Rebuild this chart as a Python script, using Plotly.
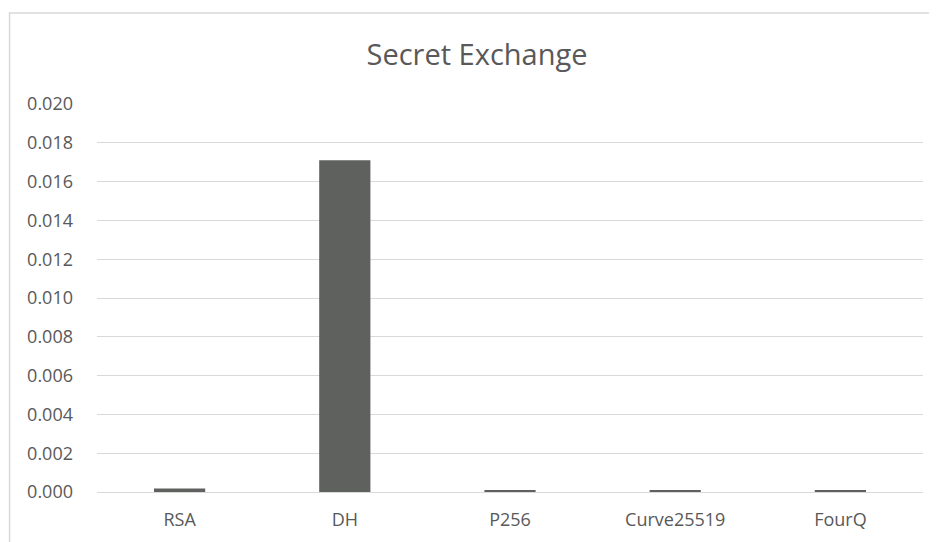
import plotly.graph_objects as go

categories = ["RSA", "DH", "P256", "Curve25519", "FourQ"]
values = [0.00018, 0.01710, 0.00010, 0.00010, 0.00010]
y_ticks = [0.000, 0.002, 0.004, 0.006, 0.008, 0.010, 0.012, 0.014, 0.016, 0.018, 0.020]

W, H = 937, 542
OFF = 8  # page body margin offset
L, R, T, B = 96.5 - OFF, 14.2 + OFF, 104 - OFF, 50 + OFF

fig = go.Figure(go.Bar(
    x=categories, y=values,
    marker=dict(color="#5f615f", line=dict(width=0)),
    width=0.31,
))

text_color = "#595959"
font = "Open Sans"

fig.update_layout(
    width=W, height=H,
    margin=dict(l=L, r=R, t=T, b=B, pad=0),
    paper_bgcolor="white", plot_bgcolor="white",
    showlegend=False,
    title=dict(text="Secret Exchange", x=(477 - OFF) / W, xref="container",
               xanchor="center", y=1 - (55 - OFF) / H, yanchor="middle",
               font=dict(family=font, size=29, color=text_color)),
    font=dict(family=font, size=18, color=text_color),
    xaxis=dict(showgrid=False, showline=False, ticks="", ticklabelstandoff=15,
               tickfont=dict(family=font, size=18, color=text_color)),
    yaxis=dict(range=[0, 0.020], tickvals=y_ticks, tickformat=".3f",
               showgrid=True, gridcolor="#d9d9d9", gridwidth=1,
               zeroline=True, zerolinecolor="#d9d9d9", zerolinewidth=1,
               showline=False, ticks="", ticklabelstandoff=23,
               tickfont=dict(family=font, size=18, color=text_color)),
)

# chart frame border (light gray), extends past right and bottom edges
pw, ph = W - L - R, H - T - B
x0 = (8 - OFF + 1 - L) / pw
x1 = (W + 20 - L) / pw
y_top = (H - (13 - OFF) - B) / ph
y_bot = (-20 - B) / ph
fig.add_shape(type="rect", xref="paper", yref="paper",
              x0=x0, x1=x1, y0=y_bot, y1=y_top,
              line=dict(color="#d9d9d9", width=1.5), layer="below")

fig.write_html("out.html")
